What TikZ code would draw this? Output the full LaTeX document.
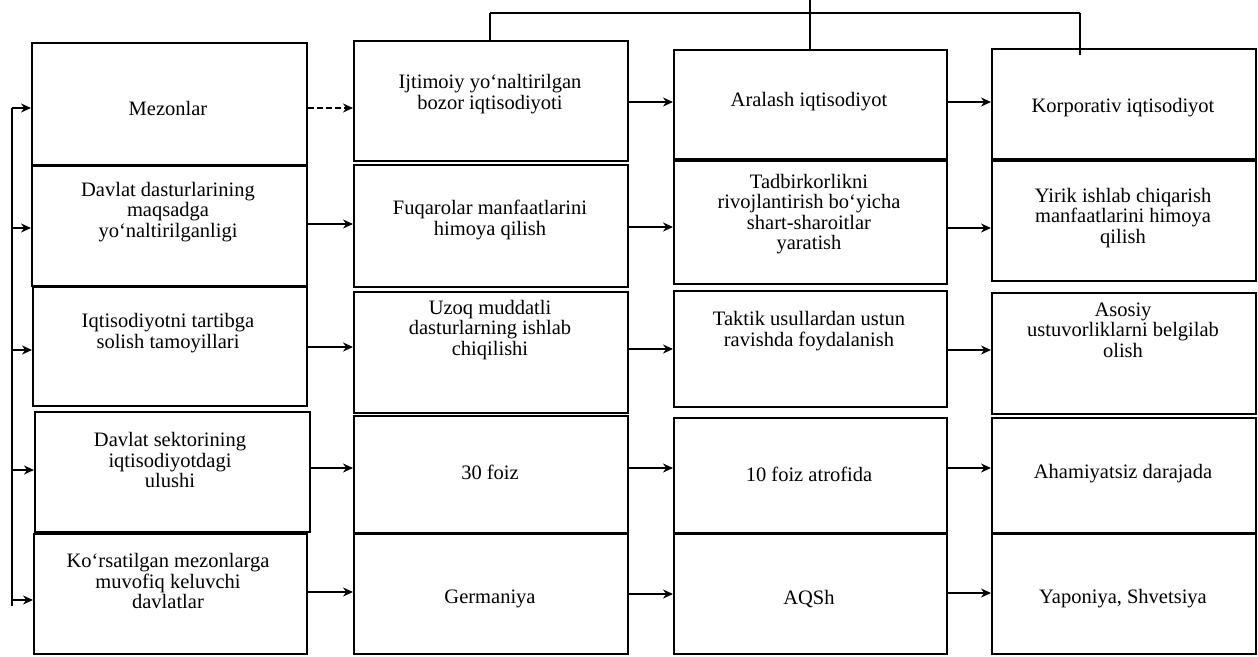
\documentclass[tikz,border=0pt]{standalone}
\usepackage{fontspec}
\setmainfont{Liberation Serif}
\usetikzlibrary{arrows.meta}
\tikzset{
 box/.style={draw, line width=1.6pt, rectangle, anchor=north west, inner sep=0pt, minimum width=274pt},
 txt/.style={align=center, font=\fontsize{20.5}{20.5}\selectfont, inner sep=0pt},
 arr/.style={line width=1.5pt, -{Stealth[length=10pt,width=9pt]}},
 dasharr/.style={arr, dash pattern=on 6pt off 3pt},
 conline/.style={line width=1.5pt},
}
\begin{document}
\begin{tikzpicture}[x=1pt,y=-1pt]
\useasboundingbox (0,0) rectangle (1258,656);
\fill[white] (0,0) rectangle (1258,656);

% column 1
\node[box, minimum width=275pt, minimum height=122pt] (c1r1) at (31,42) {};
\node[box, minimum width=275pt, minimum height=120pt] (c1r2) at (31,165) {};
\node[box, minimum width=274pt, minimum height=119pt] (c1r3) at (32,286) {};
\node[box, minimum width=275pt, minimum height=120pt] (c1r4) at (34,411) {};
\node[box, minimum width=273pt, minimum height=120pt] (c1r5) at (33,533) {};
% column 2
\node[box, minimum height=120pt] (c2r1) at (353,40) {};
\node[box, minimum height=122pt] (c2r2) at (353,164) {};
\node[box, minimum height=121pt] (c2r3) at (353,291) {};
\node[box, minimum height=117pt] (c2r4) at (353,415) {};
\node[box, minimum height=120pt] (c2r5) at (353,533) {};
% column 3
\node[box, minimum width=273pt, minimum height=109pt] (c3r1) at (673,49) {};
\node[box, minimum width=273pt, minimum height=123pt] (c3r2) at (673,160) {};
\node[box, minimum width=273pt, minimum height=116pt] (c3r3) at (673,290) {};
\node[box, minimum width=273pt, minimum height=115pt] (c3r4) at (673,417) {};
\node[box, minimum width=273pt, minimum height=120pt] (c3r5) at (673,533) {};
% column 4
\node[box, minimum width=264pt, minimum height=110pt] (c4r1) at (991,48) {};
\node[box, minimum width=264pt, minimum height=120pt] (c4r2) at (991,160) {};
\node[box, minimum width=264pt, minimum height=121pt] (c4r3) at (991,292) {};
\node[box, minimum width=264pt, minimum height=115pt] (c4r4) at (991,417) {};
\node[box, minimum width=264pt, minimum height=120pt] (c4r5) at (991,533) {};

% texts
\node[txt] (t11) at (168,108) {Mezonlar};
\node[txt] (t12) at (168,212) {Davlat dasturlarining\\maqsadga\\yo‘naltirilganligi};
\node[txt] (t13) at (168,333) {Iqtisodiyotni tartibga\\solish tamoyillari};
\node[txt] (t14) at (170,460) {Davlat sektorining\\iqtisodiyotdagi\\ulushi};
\node[txt] (t15) at (168,581) {Ko‘rsatilgan mezonlarga\\muvofiq keluvchi\\davlatlar};

\node[txt] (t21) at (490,94) {Ijtimoiy yo‘naltirilgan\\bozor iqtisodiyoti};
\node[txt] (t22) at (490,220) {Fuqarolar manfaatlarini\\himoya qilish};
\node[txt] (t23) at (490,330) {Uzoq muddatli\\dasturlarning ishlab\\chiqilishi};
\node[txt] (t24) at (490,472) {30 foiz};
\node[txt] (t25) at (490,599) {Germaniya};

\node[txt] (t31) at (809,102) {Aralash iqtisodiyot};
\node[txt] (t32) at (809,214) {Tadbirkorlikni\\rivojlantirish bo‘yicha\\shart-sharoitlar\\yaratish};
\node[txt] (t33) at (809,331) {Taktik usullardan ustun\\ravishda foydalanish};
\node[txt] (t34) at (809,474) {10 foiz atrofida};
\node[txt] (t35) at (809,599) {AQSh};

\node[txt] (t41) at (1123,108) {Korporativ iqtisodiyot};
\node[txt] (t42) at (1123,218) {Yirik ishlab chiqarish\\manfaatlarini himoya\\qilish};
\node[txt] (t43) at (1123,330) {Asosiy\\ustuvorliklarni belgilab\\olish};
\node[txt] (t44) at (1123,474) {Ahamiyatsiz darajada};
\node[txt] (t45) at (1123,599) {Yaponiya, Shvetsiya};

% row connectors
\draw[dasharr] (c1r1.east |- 0,108) -- (c2r1.west |- 0,108);
\draw[arr] (c2r1.east |- 0,102) -- (c3r1.west |- 0,102);
\draw[arr] (c3r1.east |- 0,102) -- (c4r1.west |- 0,102);

\draw[arr] (c1r2.east |- 0,224) -- (c2r2.west |- 0,224);
\draw[arr] (c2r2.east |- 0,227) -- (c3r2.west |- 0,227);
\draw[arr] (c3r2.east |- 0,228) -- (c4r2.west |- 0,228);

\draw[arr] (c1r3.east |- 0,347) -- (c2r3.west |- 0,347);
\draw[arr] (c2r3.east |- 0,349) -- (c3r3.west |- 0,349);
\draw[arr] (c3r3.east |- 0,350) -- (c4r3.west |- 0,350);

\draw[arr] (c1r4.east |- 0,468) -- (c2r4.west |- 0,468);
\draw[arr] (c2r4.east |- 0,468) -- (c3r4.west |- 0,468);
\draw[arr] (c3r4.east |- 0,468) -- (c4r4.west |- 0,468);

\draw[arr] (c1r5.east |- 0,592) -- (c2r5.west |- 0,592);
\draw[arr] (c2r5.east |- 0,594) -- (c3r5.west |- 0,594);
\draw[arr] (c3r5.east |- 0,593) -- (c4r5.west |- 0,593);

% left bracket
\coordinate (ltop) at (12,108);
\coordinate (lbot) at (12,606);
\draw[conline] (ltop) -- (lbot);
\draw[arr] (ltop) -- (c1r1.west |- ltop);
\draw[arr] (lbot |- 0,228) -- (c1r2.west |- 0,228);
\draw[arr] (lbot |- 0,350) -- (c1r3.west |- 0,350);
\draw[arr] (lbot |- 0,470) -- (c1r4.west |- 0,470);
\draw[arr] (lbot |- 0,600) -- (c1r5.west |- 0,600);

% top bracket
\coordinate (tl) at (490,13);
\coordinate (tr) at (1080,13);
\coordinate (tt) at (810,0);
\draw[conline] (tl) -- (tr);
\draw[line width=2.5pt] (tl) -- (tl |- c2r1.north);
\draw[conline] (tt) -- (tt |- c3r1.north);
\draw[conline] (tr) -- ([yshift=-7pt]tr |- c4r1.north);
\end{tikzpicture}
\end{document}
